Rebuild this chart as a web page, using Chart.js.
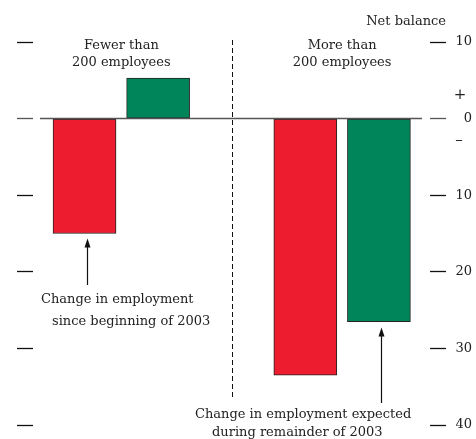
<!DOCTYPE html>
<html>
<head>
<meta charset="utf-8">
<script src="https://cdn.jsdelivr.net/npm/chart.js@4"></script>
<style>
html,body{margin:0;padding:0;background:#fff;}
#wrap{width:476px;height:439px;position:relative;}
</style>
</head>
<body>
<div id="wrap"><canvas id="c" width="476" height="439"></canvas></div>
<script>
// ---- data ----
const groups = ['Fewer than\n200 employees', 'More than\n200 employees'];
const series = ['Change in employment since beginning of 2003', 'Change in employment expected during remainder of 2003'];
const positions = [1, 2, 4, 5];              // slot index of each bar (slot 3 = divider)
const values = [-15, 5.3, -33.5, -26.5];     // net balance
const barColors = ['#ED1C2E', '#00845A', '#ED1C2E', '#00845A'];
const yTicks = [10, 0, -10, -20, -30, -40];
const yMin = -40, yMax = 10;
const dividerAt = 3;

const FONT = 'DejaVu Serif';
const TXT = '#222';

const overlay = {
  id: 'overlay',
  afterDatasetsDraw(chart) {
    const {ctx, chartArea: ca, scales: {x, y}} = chart;
    ctx.save();
    // zero line
    const y0 = y.getPixelForValue(0);
    ctx.strokeStyle = '#555';
    ctx.lineWidth = 1.5;
    ctx.beginPath();
    ctx.moveTo(ca.left + 7, y0);
    ctx.lineTo(ca.right - 8, y0);
    ctx.stroke();
    // divider
    const xd = Math.round(x.getPixelForValue(dividerAt)) + 0.5;
    ctx.strokeStyle = '#111';
    ctx.lineWidth = 1;
    ctx.setLineDash([5, 3]);
    ctx.beginPath();
    ctx.moveTo(xd, y.getPixelForValue(yMax) - 2);
    ctx.lineTo(xd, 398);
    ctx.stroke();
    ctx.setLineDash([]);

    ctx.fillStyle = TXT;
    ctx.font = '13px "' + FONT + '"';
    ctx.textBaseline = 'middle';
    // group headers
    ctx.textAlign = 'center';
    const g1 = groups[0].split('\n'), g2 = groups[1].split('\n');
    const c1 = (x.getPixelForValue(1) + x.getPixelForValue(2)) / 2;
    const c2 = (x.getPixelForValue(4) + x.getPixelForValue(5)) / 2;
    ctx.fillText(g1[0], c1, 46);
    ctx.fillText(g1[1], c1, 63);
    ctx.fillText(g2[0], c2, 46);
    ctx.fillText(g2[1], c2, 63);
    // net balance
    ctx.textAlign = 'right';
    ctx.fillText('Net balance', 446, 22);
    // + / -
    ctx.textAlign = 'center';
    ctx.font = '15px "' + FONT + '"';
    ctx.fillText('+', 460, 95);
    ctx.fillText('\u2013', 459, 140);
    ctx.font = '13px "' + FONT + '"';
    // annotations
    ctx.textAlign = 'left';
    ctx.fillText('Change in employment', 41, 300);
    ctx.fillText('since beginning of 2003', 52, 322);
    ctx.fillText('Change in employment expected', 195, 415);
    ctx.fillText('during remainder of 2003', 212, 433);

    // arrows
    function arrow(px, yFrom, yTip) {
      ctx.strokeStyle = '#111';
      ctx.fillStyle = '#111';
      ctx.lineWidth = 1.2;
      ctx.beginPath();
      ctx.moveTo(px, yFrom);
      ctx.lineTo(px, yTip + 6);
      ctx.stroke();
      ctx.beginPath();
      ctx.moveTo(px, yTip);
      ctx.lineTo(px - 3, yTip + 9);
      ctx.lineTo(px + 3, yTip + 9);
      ctx.closePath();
      ctx.fill();
    }
    arrow(Math.round(x.getPixelForValue(positions[0])) + 2.5, 285, y.getPixelForValue(values[0]) + 5);
    arrow(Math.round(x.getPixelForValue(positions[3])) + 2.5, 403, y.getPixelForValue(values[3]) + 6);
    ctx.restore();
  }
};

new Chart(document.getElementById('c'), {
  type: 'bar',
  data: {
    datasets: [{
      data: positions.map((p, i) => ({x: p, y: values[i]})),
      backgroundColor: barColors,
      borderColor: '#222',
      borderWidth: 1,
      borderSkipped: false,
      barThickness: 63
    }]
  },
  options: {
    responsive: false,
    animation: false,
    layout: {padding: {top: 42, bottom: 14, left: 0, right: 4}},
    plugins: {legend: {display: false}, tooltip: {enabled: false}},
    scales: {
      x: {
        type: 'linear', min: 0.30, max: 5.694, display: false, offset: false
      },
      y: {
        position: 'right', min: yMin, max: yMax,
        afterBuildTicks: s => { s.ticks = yTicks.map(v => ({value: v})); },
        afterFit: s => { s.width = 42; },
        border: {display: false},
        grid: {drawOnChartArea: false, tickLength: 16, tickWidth: 1.3,
               tickColor: c => c.tick && c.tick.value === 0 ? '#555' : '#111'},
        ticks: {
          padding: 5, crossAlign: 'far', color: TXT,
          font: {family: FONT, size: 13},
          callback: v => String(Math.abs(v))
        }
      },
      yl: {
        position: 'left', min: yMin, max: yMax,
        afterBuildTicks: s => { s.ticks = yTicks.map(v => ({value: v})); },
        afterFit: s => { s.width = 33; },
        border: {display: false},
        grid: {drawOnChartArea: false, tickLength: 16, tickWidth: 1.3,
               tickColor: c => c.tick && c.tick.value === 0 ? '#555' : '#111'},
        ticks: {display: true, padding: 0, callback: () => ''}
      }
    }
  },
  plugins: [overlay]
});
</script>
</body>
</html>
